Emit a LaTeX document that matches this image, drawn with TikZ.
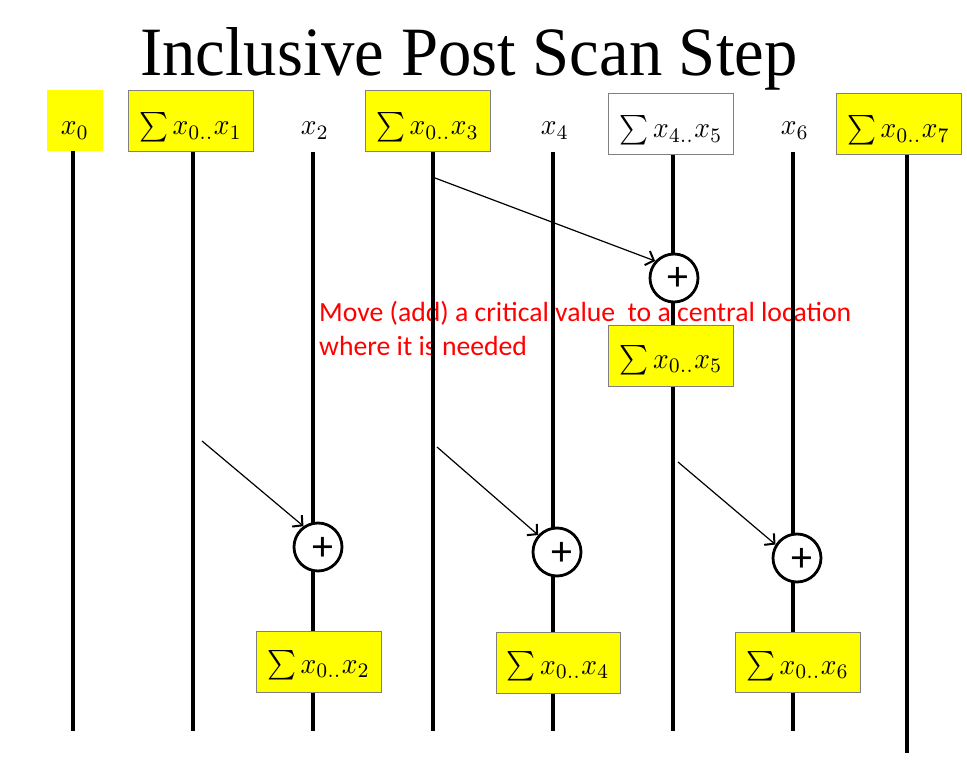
\RequirePackage{fix-cm}
\documentclass[tikz,border=0pt]{standalone}
\usepackage{amsmath}
\usepackage{fontspec}
\usepackage{graphicx}
\newfontfamily\titlefont{Liberation Serif}
\newfontfamily\notefont{Carlito}
\usetikzlibrary{arrows.meta}
\definecolor{boxgray}{HTML}{808080}
\definecolor{boxyellow}{HTML}{FFFF00}
\newcommand{\scanmath}[1]{\scalebox{2.75}[2.95]{$#1$}}
\tikzset{
  vline/.style={line width=3.8pt, black},
  ybox/.style={draw=boxgray, line width=0.8pt, fill=boxyellow, minimum width=125pt, minimum height=61pt, inner sep=0pt},
  wbox/.style={draw=boxgray, line width=0.8pt, fill=white, minimum width=125pt, minimum height=61pt, inner sep=0pt},
  mtxt/.style={anchor=base, inner sep=0pt, font=\fontsize{10}{12}\selectfont},
  addc/.style={circle, draw=black, line width=2.8pt, fill=white, minimum size=48pt, inner sep=0pt},
  plustxt/.style={inner sep=0pt, font=\notefont\fontsize{42}{42}\selectfont},
  note/.style={anchor=base west, inner sep=0pt, text=red, font=\notefont\fontsize{27.7}{32}\selectfont},
  movearrow/.style={line width=1.2pt, -{Straight Barb[length=7pt,width=15pt,line width=2pt]}}
}
\begin{document}
\begin{tikzpicture}[x=1pt,y=-1pt]
\useasboundingbox (0,0) rectangle (967,765);
% title
\node[anchor=base west, inner sep=0pt] (title) at (140,76) {\titlefont\resizebox{657pt}{48pt}{Inclusive Post Scan Step}};
% red note (beneath the lines)
\node[note] (noteA) at (319,321) {Move (add) a critical value\ \ to a central location};
\node[note] (noteB) at (319,355) {where it is needed};
% line end points
\coordinate (top0) at (73,151);  \coordinate (bot0) at (73,731);
\coordinate (top1) at (193,151); \coordinate (bot1) at (193,731);
\coordinate (top2) at (313,152); \coordinate (bot2) at (313,731);
\coordinate (top3) at (433,151); \coordinate (bot3) at (433,731);
\coordinate (top4) at (553,152); \coordinate (bot4) at (553,731);
\coordinate (top5) at (673,154); \coordinate (bot5) at (673,731);
\coordinate (top6) at (793,152); \coordinate (bot6) at (793,731);
\coordinate (top7) at (907,154); \coordinate (bot7) at (907,753);
\foreach \i in {0,...,7} { \draw[vline] (top\i) -- (bot\i); }
% top row
\node[ybox, draw=none, minimum width=56pt] (b0) at (75,120.5) {};
\node[mtxt] (t0) at (75,135) {\scanmath{x_0}};
\node[ybox] (b1) at (190.5,120.5) {};
\node[mtxt] (t1) at (190.5,135) {\scanmath{\sum x_{0..}x_1}};
\node[mtxt] (t2) at (315,135) {\scanmath{x_2}};
\node[ybox] (b3) at (427.5,120.5) {};
\node[mtxt] (t3) at (427.5,135) {\scanmath{\sum x_{0..}x_3}};
\node[mtxt] (t4) at (555,135) {\scanmath{x_4}};
\node[wbox] (b5) at (671,123.5) {};
\node[mtxt] (t5) at (671,138) {\scanmath{\sum x_{4..}x_5}};
\node[mtxt] (t6) at (795,135) {\scanmath{x_6}};
\node[ybox] (b7) at (898.5,123.5) {};
\node[mtxt] (t7) at (898.5,138) {\scanmath{\sum x_{0..}x_7}};
% add circles
\node[addc] (cC) at (674,278) {};
\node[plustxt] (pC) at (678,279) {+};
\node[addc] (cA) at (318,547) {};
\node[plustxt] (pA) at (323,549) {+};
\node[addc] (cB) at (557,552) {};
\node[plustxt] (pB) at (562,554) {+};
\node[addc] (cD) at (797,558) {};
\node[plustxt] (pD) at (802,560) {+};
% result boxes
\node[ybox] (m5) at (671,355.5) {};
\node[mtxt] (r5) at (671,368) {\scanmath{\sum x_{0..}x_5}};
\node[ybox] (m2) at (318.5,661.5) {};
\node[mtxt] (r2) at (318.5,673) {\scanmath{\sum x_{0..}x_2}};
\node[ybox, minimum width=124pt] (m4) at (558,662.5) {};
\node[mtxt] (r4) at (558,674) {\scanmath{\sum x_{0..}x_4}};
\node[ybox, minimum height=60pt] (m6) at (797.5,662) {};
\node[mtxt] (r6) at (797.5,674) {\scanmath{\sum x_{0..}x_6}};
% arrows
\coordinate (s1) at (435,178);
\coordinate (s2) at (202,441);
\coordinate (s3) at (437,447);
\coordinate (s4) at (678,462);
\draw[movearrow] (s1) -- (cC.138);
\draw[movearrow] (s2) -- (cA.125);
\draw[movearrow] (s3) -- (cB.138);
\draw[movearrow] (s4) -- (cD.148);
\end{tikzpicture}
\end{document}
